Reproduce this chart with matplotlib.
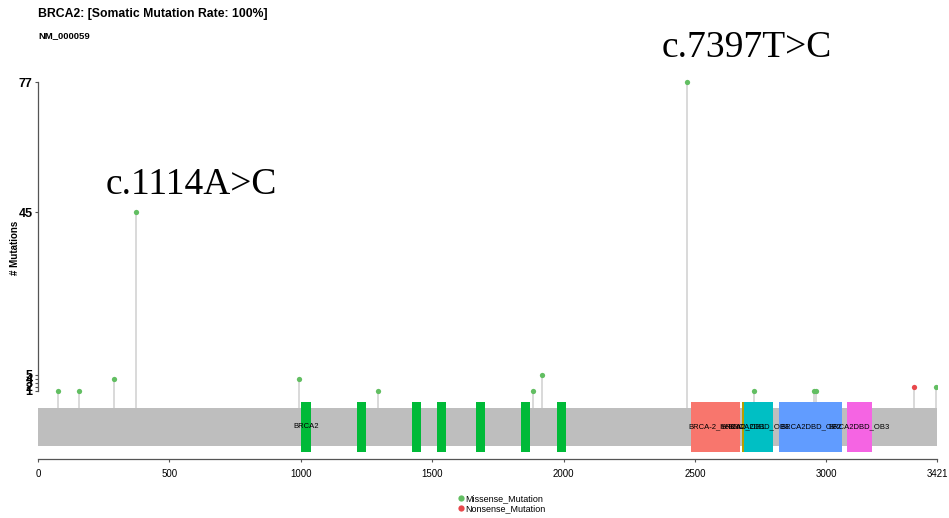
import matplotlib
matplotlib.use("Agg")
import matplotlib.pyplot as plt
from matplotlib.patches import Rectangle
from matplotlib.lines import Line2D

# ---- data ----
protein_length = 3421
mut_pos = [76, 156, 289, 373, 993, 1294, 1884, 1918, 2469, 2724, 2953, 2960, 3333, 3417]
mut_count = [1, 1, 4, 45, 4, 1, 1, 5, 77, 1, 1, 1, 2, 2]
mut_type = ["Missense_Mutation"] * 12 + ["Nonsense_Mutation", "Missense_Mutation"]

dom_start = [1002, 1214, 1423, 1519, 1667, 1839, 1976, 2486, 2678, 2686, 2821, 3078]
dom_end = [1039, 1247, 1456, 1554, 1700, 1872, 2008, 2671, 2686, 2798, 3061, 3174]
dom_name = ["BRCA2"] * 7 + ["BRCA-2_helical", "BRCA2_OB1", "BRCA2DBD_OB1",
                            "BRCA2DBD_OB2", "BRCA2DBD_OB3"]
dom_color = {"BRCA2": "#00BA38", "BRCA-2_helical": "#F8766D", "BRCA2_OB1": "#B79F00",
             "BRCA2DBD_OB1": "#00BFC4", "BRCA2DBD_OB2": "#619CFF", "BRCA2DBD_OB3": "#F564E3"}

yticks = [1, 2, 3, 4, 5, 45, 77]
xticks = [0, 500, 1000, 1500, 2000, 2500, 3000, 3421]

annot_text = ["c.1114A>C", "c.7397T>C"]
annot_x = [584, 2696]
annot_y = [49.6, 83.2]

type_color = {"Missense_Mutation": "#62BE62", "Nonsense_Mutation": "#E8474B"}

SANS = ["Liberation Sans", "DejaVu Sans"]
SERIF = ["Liberation Serif", "DejaVu Serif"]

W, H = 949, 518
fig = plt.figure(figsize=(W / 100, H / 100), dpi=100)

left_px, right_px = 38, 937
top_px, bot_px = 70, 458.7
ax = fig.add_axes([left_px / W, (H - bot_px) / H, (right_px - left_px) / W, (bot_px - top_px) / H])
ppu = 4.0625
zero_px = 395
ax.set_xlim(0, protein_length)
ax.set_ylim((zero_px - bot_px) / ppu, (zero_px - top_px) / ppu)

bar_top, bar_bot = -3.1, -12.5
dom_top, dom_bot = -1.65, -13.95

# backbone
ax.add_patch(Rectangle((0, bar_bot), protein_length, bar_top - bar_bot,
                       facecolor="#BEBEBE", edgecolor="none", zorder=1))

# domains
for s, e, n in zip(dom_start, dom_end, dom_name):
    ax.add_patch(Rectangle((s, dom_bot), e - s, dom_top - dom_bot,
                           facecolor=dom_color[n], edgecolor="none", zorder=2))
labelled = set()
for s, e, n in zip(dom_start, dom_end, dom_name):
    if n in labelled:
        continue
    labelled.add(n)
    ax.text((s + e) / 2, (bar_top + bar_bot) / 2, n, ha="center", va="center",
            fontsize=5.5, family=SANS, color="black", zorder=5)

# lollipops
for p, c, t in zip(mut_pos, mut_count, mut_type):
    ax.plot([p, p], [bar_top, c], color="#CFCFCF", lw=1.1, zorder=0.5, solid_capstyle="butt")
    ax.plot([p], [c], "o", color=type_color[t], markersize=3.8, markeredgewidth=0, zorder=3)

# annotations
for x, y, txt in zip(annot_x, annot_y, annot_text):
    ax.text(x, y, txt, ha="center", va="baseline", fontsize=27, family=SERIF)

# spines / ticks
for s in ["top", "right"]:
    ax.spines[s].set_visible(False)
ax.spines["left"].set_bounds(1, 77)
ax.spines["bottom"].set_bounds(0, protein_length)
for s in ["left", "bottom"]:
    ax.spines[s].set_color("#555555")
    ax.spines[s].set_linewidth(0.9)
ax.set_yticks(yticks)
ax.set_yticklabels([str(v) for v in yticks], fontsize=9, fontweight="bold", family=SANS)
ax.set_xticks(xticks)
ax.set_xticklabels([str(v) for v in xticks], fontsize=7, family=SANS)
ax.tick_params(axis="both", length=2.5, width=0.8, color="#555555", pad=1.5)
ax.tick_params(axis="x", pad=5)
ax.set_ylabel("# Mutations", fontsize=7, fontweight="bold", family=SANS)
ax.yaxis.set_label_coords(-18 / (right_px - left_px), (bot_px - 248) / (bot_px - top_px))

# title
fig.text(38 / W, 1 - 8 / H, "BRCA2: [Somatic Mutation Rate: 100%]", ha="left", va="top",
         fontsize=8.8, fontweight="bold", family=SANS)
fig.text(38 / W, 1 - 31 / H, "NM_000059", ha="left", va="top",
         fontsize=6.8, fontweight="bold", family=SANS)

# legend
handles = [Line2D([], [], marker="o", ls="none", color=type_color[k], markersize=4.5,
                  markeredgewidth=0) for k in ["Missense_Mutation", "Nonsense_Mutation"]]
fig.legend(handles, ["Missense_Mutation", "Nonsense_Mutation"], loc="upper left",
           bbox_to_anchor=(454 / W, 1 - 490 / H), frameon=False, handlelength=0.6,
           handletextpad=0.2, labelspacing=0.1, borderpad=0,
           prop={"family": SANS, "size": 6.5})

fig.savefig("out.png", dpi=100)
